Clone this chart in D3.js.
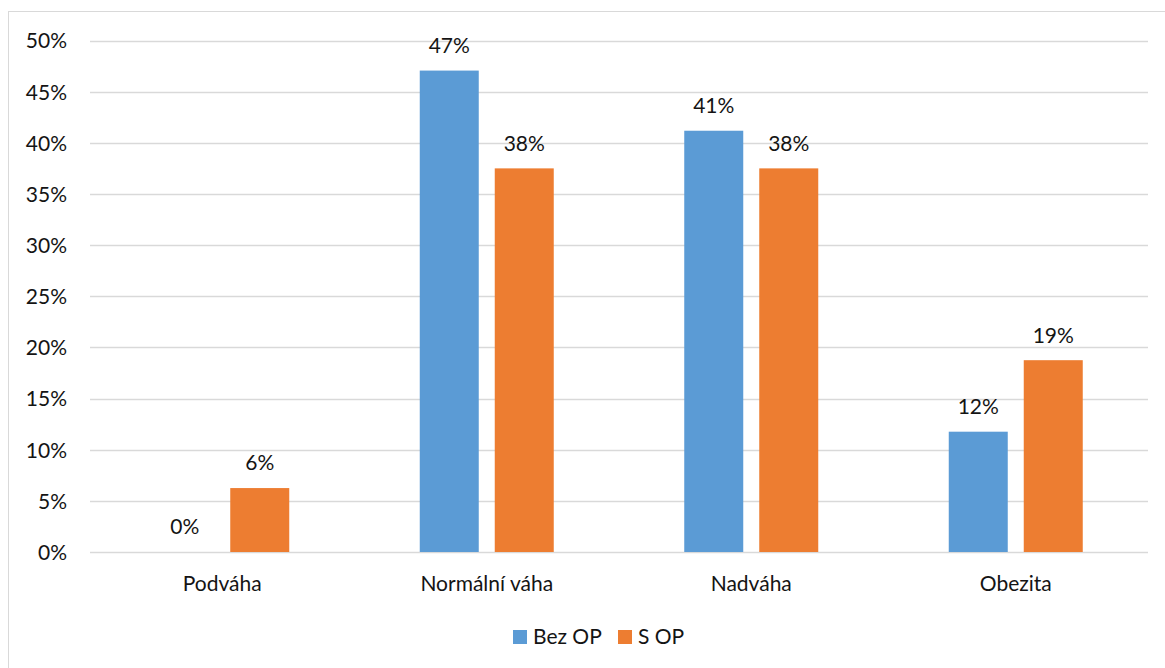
<!DOCTYPE html>
<html>
<head>
<meta charset="utf-8">
<script src="https://cdn.jsdelivr.net/npm/d3@7"></script>
<style>
  html, body { margin: 0; padding: 0; background: #fff; }
  svg { display: block; font-family: Lato, "Open Sans", sans-serif; }
</style>
</head>
<body>
<svg id="chart" width="1165" height="668"></svg>
<script>
const categories = ["Podváha", "Normální váha", "Nadváha", "Obezita"];
const seriesNames = ["Bez OP", "S OP"];
const bezOP = [0, 0.4706, 0.4118, 0.1176];
const sOP = [0.0625, 0.375, 0.375, 0.1875];
const yTicks = [0, 0.05, 0.10, 0.15, 0.20, 0.25, 0.30, 0.35, 0.40, 0.45, 0.50];
const colors = ["#5b9bd5", "#ed7d31"];

const svg = d3.select("#chart");
const FS = 21, TXT = "#141414";

// chart frame
svg.append("rect").attr("x", 8.5).attr("y", 11.5).attr("width", 1200).attr("height", 700)
  .attr("fill", "#fff").attr("stroke", "#d9d9d9").attr("stroke-width", 1);

const plot = { left: 90, right: 1148, top: 40.5, bottom: 552 };

const x0 = d3.scaleBand().domain(categories).range([plot.left, plot.right]).paddingInner(0).paddingOuter(0);
const y = d3.scaleLinear().domain([0, 0.5]).range([plot.bottom, plot.top]);

const barW = 59, gap = 16;

// gridlines
svg.append("g").selectAll("line").data(yTicks).join("line")
  .attr("x1", plot.left).attr("x2", plot.right)
  .attr("y1", d => Math.round(y(d)) + 0.5).attr("y2", d => Math.round(y(d)) + 0.5)
  .attr("stroke", "#d9d9d9").attr("stroke-width", 1.3);

// y axis labels
const yAxis = d3.axisLeft(y).tickValues(yTicks).tickFormat(d3.format(".0%")).tickSize(0).tickPadding(0);
const yg = svg.append("g").attr("transform", `translate(${67},0)`).call(yAxis);
yg.select(".domain").remove();
yg.selectAll("text").attr("font-size", FS).attr("fill", TXT).attr("font-family", "Lato, sans-serif")
  .attr("dy", "0.35em");

// x axis labels
const xAxis = d3.axisBottom(x0).tickSize(0).tickPadding(0);
const xg = svg.append("g").attr("transform", `translate(0,${584})`).call(xAxis);
xg.select(".domain").remove();
xg.selectAll("text").attr("font-size", FS).attr("fill", TXT).attr("font-family", "Lato, sans-serif")
  .attr("dy", "0.35em");

// bars
const data = categories.map((c, i) => ({ cat: c, values: [bezOP[i], sOP[i]] }));
const groups = svg.append("g").selectAll("g").data(data).join("g")
  .attr("transform", d => `translate(${x0(d.cat) + x0.bandwidth() / 2},0)`);

const barX = (j) => j === 0 ? -(barW + gap / 2) : gap / 2;

groups.selectAll("rect").data(d => d.values.map((v, j) => ({ v, j }))).join("rect")
  .attr("x", d => barX(d.j))
  .attr("width", barW)
  .attr("y", d => y(d.v))
  .attr("height", d => y(0) - y(d.v))
  .attr("fill", d => colors[d.j]);

groups.selectAll("text").data(d => d.values.map((v, j) => ({ v, j }))).join("text")
  .attr("x", d => barX(d.j) + barW / 2)
  .attr("y", d => y(d.v) - 25)
  .attr("dy", "0.35em")
  .attr("text-anchor", "middle")
  .attr("font-size", FS)
  .attr("fill", TXT)
  .text(d => d3.format(".0%")(d.v));

// legend
const legend = svg.append("g");
const legendItems = [
  { name: seriesNames[0], x: 513, color: colors[0] },
  { name: seriesNames[1], x: 618, color: colors[1] }
];
legendItems.forEach(it => {
  legend.append("rect").attr("x", it.x).attr("y", 630).attr("width", 14).attr("height", 14).attr("fill", it.color);
  legend.append("text").attr("x", it.x + 20).attr("y", 637).attr("dy", "0.35em")
    .attr("font-size", FS).attr("fill", TXT).text(it.name);
});
</script>
</body>
</html>
